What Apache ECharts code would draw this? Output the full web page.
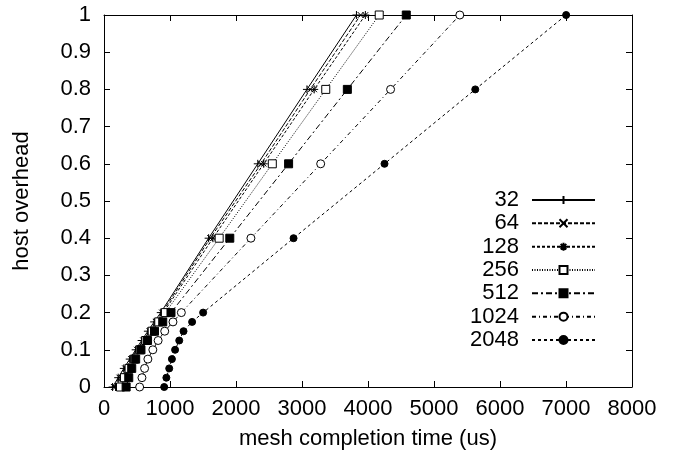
<!DOCTYPE html>
<html>
<head>
<meta charset="utf-8">
<script src="https://cdn.jsdelivr.net/npm/echarts@6/dist/echarts.min.js"></script>
<style>
html,body{margin:0;padding:0;background:#fff;}
#c{width:673px;height:460px;}
</style>
</head>
<body>
<div id="c"></div>
<script>
// y levels (host overhead) shared by all series
const yLevels = [0, 0.025, 0.05, 0.075, 0.1, 0.125, 0.15, 0.175, 0.2, 0.4, 0.6, 0.8, 1];
// mesh completion time (us) per series
const t32   = [130, 215, 300, 390, 480, 570, 665, 760, 860, 1585, 2330, 3075, 3825];
const t64   = [150, 235, 320, 410, 500, 595, 690, 785, 880, 1610, 2380, 3125, 3888];
const t128  = [175, 260, 345, 435, 525, 615, 710, 805, 900, 1650, 2420, 3185, 3960];
const t256  = [250, 310, 380, 460, 545, 635, 730, 830, 930, 1745, 2550, 3360, 4170];
const t512  = [335, 375, 420, 480, 560, 660, 765, 890, 1015, 1906, 2797, 3687, 4580];
const t1024 = [540, 575, 615, 665, 740, 820, 920, 1045, 1172, 2226, 3283, 4342, 5391];
const t2048 = [912, 945, 988, 1029, 1077, 1140, 1205, 1335, 1502, 2872, 4250, 5625, 7002];
const seriesNames = ['32', '64', '128', '256', '512', '1024', '2048'];
const seriesTimes = [t32, t64, t128, t256, t512, t1024, t2048];
const xTicks = {min: 0, max: 8000, interval: 1000};
const yTicks = {min: 0, max: 1, interval: 0.1};
const xTitle = 'mesh completion time (us)';
const yTitle = 'host overhead';

const FONT = 'Liberation Sans';
const FS = 22;
const styles = [
  {symbol: 'path://M0,5L10,5M5,0L5,10', fill: '#000', dash: 'solid', size: 8},
  {symbol: 'path://M0,0L10,10M10,0L0,10', fill: '#000', dash: [4, 2], size: 6},
  {symbol: 'path://M0,5L10,5M5,0L5,10M1.5,1.5L8.5,8.5M8.5,1.5L1.5,8.5', fill: '#000', dash: [3, 2], size: 8},
  {symbol: 'rect', fill: '#fff', dash: [1, 1.5], size: 8},
  {symbol: 'rect', fill: '#000', dash: [6, 3, 2, 3], size: 8},
  {symbol: 'circle', fill: '#fff', dash: [4, 3, 1, 3], size: 8},
  {symbol: 'circle', fill: '#000', dash: [3, 3], size: 7}
];

const series = seriesNames.map((name, i) => ({
  name: name,
  type: 'line',
  xAxisIndex: 0,
  yAxisIndex: 0,
  data: seriesTimes[i].map((t, k) => [t, yLevels[k]]),
  symbol: styles[i].symbol,
  symbolSize: styles[i].size,
  showAllSymbol: true,
  animation: false,
  lineStyle: {color: '#000', width: 1, type: styles[i].dash},
  itemStyle: {color: styles[i].fill, borderColor: '#000', borderWidth: 1},
  emphasis: {disabled: true}
}));

const axisCommon = {
  axisLine: {show: true, onZero: false, lineStyle: {color: '#000', width: 1}},
  axisTick: {show: true, inside: true, length: 6, lineStyle: {color: '#000'}},
  splitLine: {show: false}
};

const chart = echarts.init(document.getElementById('c'));
chart.setOption({
  backgroundColor: '#fff',
  animation: false,
  textStyle: {fontFamily: FONT},
  grid: {left: 104, right: 41, top: 15, bottom: 73, containLabel: false},
  xAxis: [
    Object.assign({
      type: 'value', position: 'bottom', min: xTicks.min, max: xTicks.max, interval: xTicks.interval,
      name: xTitle, nameLocation: 'middle', nameGap: 41,
      nameTextStyle: {fontFamily: FONT, fontSize: FS, color: '#000'},
      axisLabel: {fontFamily: FONT, fontSize: FS, color: '#000', margin: 11, formatter: v => String(v)}
    }, axisCommon),
    Object.assign({
      type: 'value', position: 'top', min: xTicks.min, max: xTicks.max, interval: xTicks.interval,
      axisLabel: {show: false}
    }, axisCommon)
  ],
  yAxis: [
    Object.assign({
      type: 'value', position: 'left', min: yTicks.min, max: yTicks.max, interval: yTicks.interval,
      name: yTitle, nameLocation: 'middle', nameGap: 71,
      nameTextStyle: {fontFamily: FONT, fontSize: FS, color: '#000'},
      axisLabel: {fontFamily: FONT, fontSize: FS, color: '#000', margin: 13, formatter: v => String(Math.round(v * 10) / 10)}
    }, axisCommon),
    Object.assign({
      type: 'value', position: 'right', min: yTicks.min, max: yTicks.max, interval: yTicks.interval,
      axisLabel: {show: false}
    }, axisCommon)
  ],
  legend: {
    orient: 'vertical',
    right: 77,
    top: 188.5,
    padding: 0,
    align: 'right',
    itemWidth: 63,
    itemHeight: 10,
    itemGap: 0.33,
    selectedMode: false,
    textStyle: {fontFamily: FONT, fontSize: FS, color: '#000', lineHeight: 23, padding: [0, 8, 0, 0]},
    data: seriesNames
  },
  series: series
});
</script>
</body>
</html>
